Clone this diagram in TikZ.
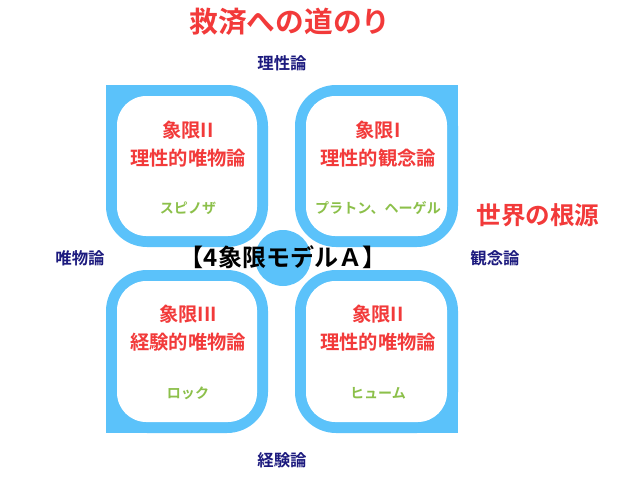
\documentclass[tikz,border=0pt]{standalone}
\usepackage{fontspec}
\setmainfont{Noto Sans CJK JP}[BoldFont={* Bold}]
\usepackage{tikz}
\usetikzlibrary{positioning}
\definecolor{skyq}{HTML}{5BC2FA}
\definecolor{redq}{HTML}{F23A3A}
\definecolor{navyq}{HTML}{1C1A7E}
\definecolor{greenq}{HTML}{8CC04A}
\tikzset{
  quad/.style={text=redq,font=\bfseries\fontsize{16.5pt}{24pt}\selectfont,align=center},
  who/.style={text=greenq,font=\bfseries\fontsize{12pt}{14pt}\selectfont},
  axis/.style={text=navyq,font=\bfseries\fontsize{14pt}{16pt}\selectfont},
  big/.style={text=redq,font=\bfseries\fontsize{21pt}{24pt}\selectfont}
}
\begin{document}
\begin{tikzpicture}[x=0.03cm,y=-0.03cm]
\useasboundingbox (0,0) rectangle (624,500);

% quadrants
\fill[skyq,rounded corners=35] (106,85) rectangle (268,247);
\fill[skyq] (106,85) rectangle (160,140);
\fill[skyq,rounded corners=35] (295,85) rectangle (458,247);
\fill[skyq] (400,85) rectangle (458,140);
\fill[skyq,rounded corners=35] (106,270) rectangle (268,433);
\fill[skyq] (106,380) rectangle (160,433);
\fill[skyq,rounded corners=35] (295,270) rectangle (458,433);
\fill[skyq] (400,380) rectangle (458,433);

\fill[white,rounded corners=25] (117,96) rectangle (257,236);
\fill[white,rounded corners=25] (306,96) rectangle (447,236);
\fill[white,rounded corners=25] (117,281) rectangle (257,422);
\fill[white,rounded corners=25] (306,281) rectangle (447,422);

\fill[skyq] (283,258) circle [radius=28];

\node[quad] (q2) at (188,144) {象限II\\理性的唯物論};
\node[quad] (q1) at (378,144) {象限I\\理性的観念論};
\node[quad] (q3) at (188,328) {象限III\\経験的唯物論};
\node[quad] (q4) at (378,328) {象限II\\理性的唯物論};

\node[who] (w2) at (188,208) {スピノザ};
\node[who] (w1) at (378,208) {プラトン、ヘーゲル};
\node[who] (w3) at (188,393) {ロック};
\node[who] (w4) at (378,393) {ヒューム};

\node[font=\bfseries\fontsize{20.5pt}{22pt}\selectfont] (model) at (283,257) {【4象限モデルＡ】};

\node[axis] (top) at (282,63) {理性論};
\node[axis] (bottom) at (282,460) {経験論};
\node[axis] (left) at (80,258) {唯物論};
\node[axis] (right) at (495,258) {観念論};

\node[big,font=\bfseries\fontsize{24.5pt}{26pt}\selectfont] (title) at (290,22) {救済への道のり};
\node[big] (root) at (538,215) {世界の根源};
\end{tikzpicture}
\end{document}
